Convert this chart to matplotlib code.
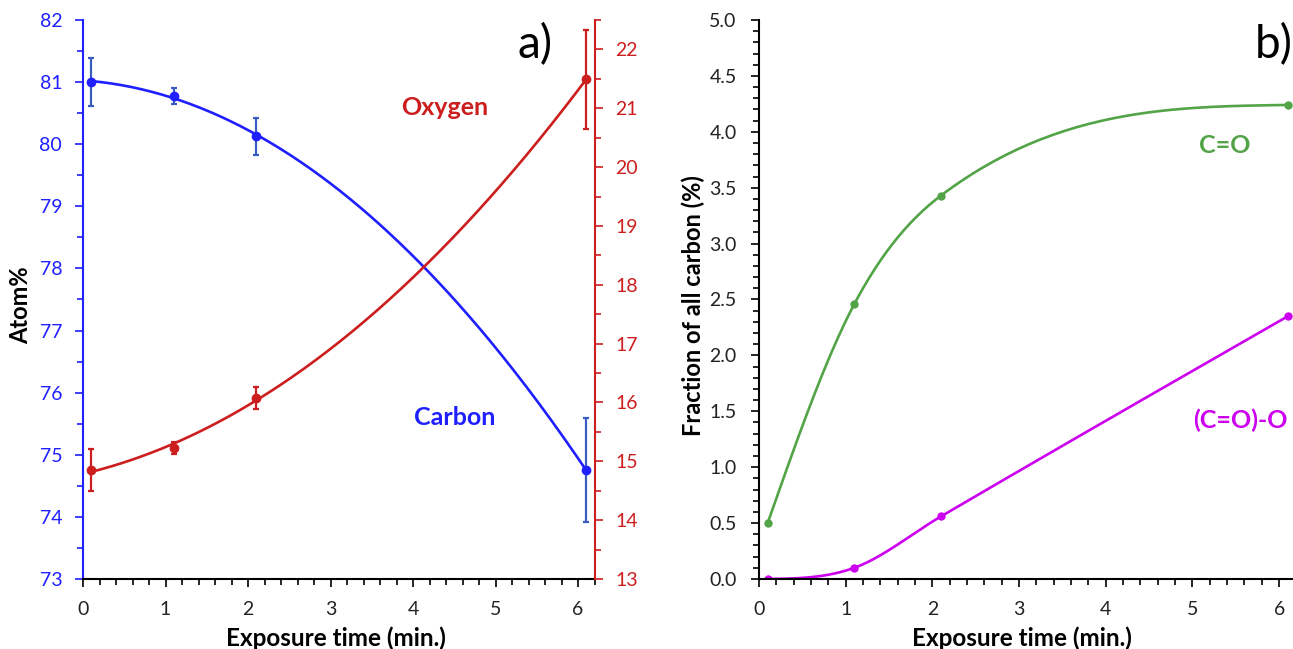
import numpy as np
import matplotlib.pyplot as plt
from matplotlib.ticker import MultipleLocator

plt.rcParams['font.family'] = ['Lato', 'DejaVu Sans']

# exposure times (min.) shared by both panels
time_min = [0.1, 1.1, 2.1, 6.1]

# panel a: atom% with error bars
carbon = [81.0, 80.78, 80.13, 74.75]
carbon_err = [0.38, 0.13, 0.30, 0.84]
oxygen = [14.85, 15.23, 16.08, 21.49]
oxygen_err = [0.36, 0.10, 0.19, 0.84]

# panel b: fraction of all carbon (%)
c_eq_o = [0.50, 2.46, 3.43, 4.24]
c_eq_o_o = [0.0, 0.10, 0.56, 2.35]

BLUE = "#1f1fff"
BLUE_ERR = "#3a5cc0"
RED = "#cc1e1e"
GREEN = "#52a447"
MAGENTA = "#cc00ee"


def trend(x, y, order=2, num=200):
    # polynomial trendline over the data range
    coef = np.polyfit(x, y, order)
    xs = np.linspace(min(x), max(x), num)
    return xs, np.polyval(coef, xs)


def smooth(x, y, num=60):
    # cubic Hermite through the points: averaged secant slopes, natural ends
    x = np.asarray(x, float)
    y = np.asarray(y, float)
    h = np.diff(x)
    d = np.diff(y) / h
    m = np.empty_like(y)
    m[1:-1] = (d[:-1] + d[1:]) / 2
    m[0] = (3 * d[0] - m[1]) / 2
    m[-1] = (3 * d[-1] - m[-2]) / 2
    xs_all, ys_all = [], []
    for k in range(len(h)):
        s = np.linspace(0, 1, num)
        h00 = 2 * s**3 - 3 * s**2 + 1
        h10 = s**3 - 2 * s**2 + s
        h01 = -2 * s**3 + 3 * s**2
        h11 = s**3 - s**2
        xs_all.append(x[k] + s * h[k])
        ys_all.append(h00 * y[k] + h10 * h[k] * m[k] + h01 * y[k + 1] + h11 * h[k] * m[k + 1])
    return np.concatenate(xs_all), np.concatenate(ys_all)


def style_ticks(ax, axis, color, pad):
    ax.tick_params(axis=axis, which="major", length=6, width=1.2, color=color,
                   labelcolor=color, labelsize=14, pad=pad, direction="out")
    ax.tick_params(axis=axis, which="minor", length=4, width=1.2, color=color, direction="out")


fig = plt.figure(figsize=(12.93, 6.49), dpi=100)

# ---------------- panel a ----------------
ax = fig.add_axes([0.0642, 0.1079, 0.3956, 0.8613])
ax2 = ax.twinx()

xs, ys = trend(time_min, carbon)
ax.plot(xs, ys, color=BLUE, lw=1.9, zorder=3)
ax.errorbar(time_min, carbon, yerr=carbon_err, fmt="none", ecolor=BLUE_ERR,
            elinewidth=1.6, capsize=2.5, capthick=1.6, zorder=4)
ax.plot(time_min, carbon, "o", color=BLUE, ms=6, zorder=5)

xs, ys = trend(time_min, oxygen)
ax2.plot(xs, ys, color=RED, lw=1.9, zorder=3)
ax2.errorbar(time_min, oxygen, yerr=oxygen_err, fmt="none", ecolor=RED,
             elinewidth=1.6, capsize=2.5, capthick=1.6, zorder=4)
ax2.plot(time_min, oxygen, "o", color=RED, ms=6, zorder=5)

ax.set_xlim(0, 6.2)
ax.set_ylim(73, 82)
ax2.set_ylim(13, 22.5)
ax.xaxis.set_major_locator(MultipleLocator(1))
ax.xaxis.set_minor_locator(MultipleLocator(0.2))
ax.yaxis.set_major_locator(MultipleLocator(1))
ax.yaxis.set_minor_locator(MultipleLocator(0.5))
ax2.yaxis.set_major_locator(MultipleLocator(1))
ax2.yaxis.set_minor_locator(MultipleLocator(0.5))

for sp in ("top", "right"):
    ax.spines[sp].set_visible(False)
for sp in ("top", "left", "bottom"):
    ax2.spines[sp].set_visible(False)
ax.spines["left"].set_color(BLUE)
ax.spines["left"].set_linewidth(1.5)
ax.spines["bottom"].set_linewidth(1.5)
ax2.spines["right"].set_color(RED)
ax2.spines["right"].set_linewidth(1.5)

style_ticks(ax, "y", BLUE, 9)
style_ticks(ax, "x", "black", 10)
ax.tick_params(axis="x", labelcolor="#222222")
style_ticks(ax2, "y", RED, 9)

ax.set_ylabel("Atom%", fontsize=17, fontweight="bold")
ax.yaxis.set_label_coords(-0.10, 0.49)
ax.set_xlabel("Exposure time (min.)", fontsize=17.5, fontweight="bold")
ax.xaxis.set_label_coords(0.494, -0.084)

ax.text(0.884, 0.955, "a)", transform=ax.transAxes, fontsize=33, ha="center", va="center")
ax.text(0.708, 0.844, "Oxygen", transform=ax.transAxes, fontsize=18, fontweight="bold",
        color=RED, ha="center", va="center")
ax.text(0.727, 0.288, "Carbon", transform=ax.transAxes, fontsize=18, fontweight="bold",
        color=BLUE, ha="center", va="center")

# ---------------- panel b ----------------
bx = fig.add_axes([0.587, 0.1079, 0.4157, 0.8613])

xs, ys = smooth(time_min, c_eq_o)
bx.plot(xs, ys, color=GREEN, lw=1.9)
bx.plot(time_min, c_eq_o, "o", color=GREEN, ms=5)

xs, ys = smooth(time_min, c_eq_o_o)
bx.plot(xs, ys, color=MAGENTA, lw=1.9)
bx.plot(time_min, c_eq_o_o, "o", color=MAGENTA, ms=5)

bx.set_xlim(0, 6.2)
bx.set_ylim(0, 5)
bx.xaxis.set_major_locator(MultipleLocator(1))
bx.xaxis.set_minor_locator(MultipleLocator(0.2))
bx.yaxis.set_major_locator(MultipleLocator(0.5))
bx.yaxis.set_minor_locator(MultipleLocator(0.1))
bx.yaxis.set_major_formatter("{x:.1f}")
for sp in ("top", "right"):
    bx.spines[sp].set_visible(False)
bx.spines["left"].set_linewidth(1.5)
bx.spines["bottom"].set_linewidth(1.5)
style_ticks(bx, "y", "black", 10)
style_ticks(bx, "x", "black", 10)
bx.tick_params(labelcolor="#222222")

bx.set_ylabel("Fraction of all carbon (%)", fontsize=17, fontweight="bold")
bx.yaxis.set_label_coords(-0.10, 0.49)
bx.set_xlabel("Exposure time (min.)", fontsize=17.5, fontweight="bold")
bx.xaxis.set_label_coords(0.489, -0.084)

bx.text(0.923, 0.955, "b)", transform=bx.transAxes, fontsize=33, ha="left", va="center")
bx.text(0.867, 0.776, "C=O", transform=bx.transAxes, fontsize=18, fontweight="bold",
        color=GREEN, ha="center", va="center")
bx.text(0.895, 0.284, "(C=O)-O", transform=bx.transAxes, fontsize=18, fontweight="bold",
        color=MAGENTA, ha="center", va="center")

fig.savefig("out.png", dpi=100)
